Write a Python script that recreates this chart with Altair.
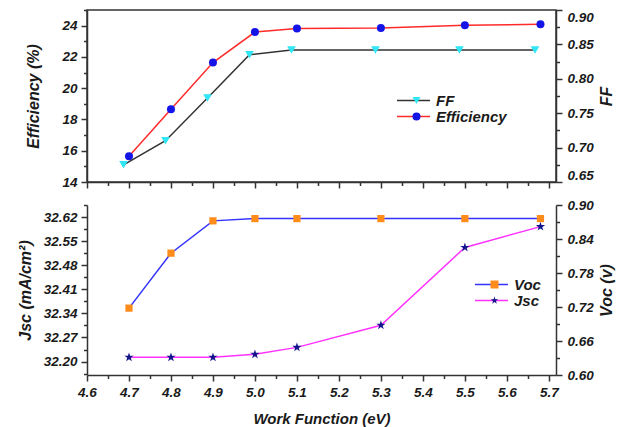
import altair as alt
import pandas as pd

# ---------------- data ----------------
work_function = [4.7, 4.8, 4.9, 5.0, 5.1, 5.3, 5.5, 5.68]
ff_work_function = [4.687, 4.787, 4.887, 4.987, 5.087, 5.287, 5.487, 5.667]
efficiency = [15.65, 18.65, 21.64, 23.59, 23.81, 23.85, 24.02, 24.09]
ff = [0.675, 0.710, 0.772, 0.835, 0.842, 0.842, 0.842, 0.842]
voc = [0.718, 0.815, 0.872, 0.876, 0.876, 0.876, 0.876, 0.876]
jsc = [32.2125, 32.2125, 32.2125, 32.2212, 32.2413, 32.3057, 32.5316, 32.5922]

x_ticks = [4.6, 4.65, 4.7, 4.75, 4.8, 4.85, 4.9, 4.95, 5.0, 5.05, 5.1, 5.15,
           5.2, 5.25, 5.3, 5.35, 5.4, 5.45, 5.5, 5.55, 5.6, 5.65, 5.7]
eff_ticks = [14, 15, 16, 17, 18, 19, 20, 21, 22, 23, 24, 25]
ff_ticks = [0.65, 0.675, 0.70, 0.725, 0.75, 0.775, 0.80, 0.825, 0.85, 0.875, 0.90]
jsc_ticks = [32.165, 32.20, 32.235, 32.27, 32.305, 32.34, 32.375, 32.41, 32.445,
             32.48, 32.515, 32.55, 32.585, 32.62, 32.655]
voc_ticks = [0.60, 0.63, 0.66, 0.69, 0.72, 0.75, 0.78, 0.81, 0.84, 0.87, 0.90]

eff_df = pd.DataFrame({"x": work_function, "value": efficiency, "series": "Efficiency"})
ff_df = pd.DataFrame({"x": ff_work_function, "value": ff, "series": "FF"})
voc_df = pd.DataFrame({"x": work_function, "value": voc, "series": "Voc"})
jsc_df = pd.DataFrame({"x": work_function, "value": jsc, "series": "Jsc"})

FONT = "Liberation Sans"
INK = "#1a1a1a"
AXC = "#333333"
STAR = ("M0,-1L0.2245,-0.309L0.951,-0.309L0.3633,0.118L0.588,0.809L0,0.382"
        "L-0.588,0.809L-0.3633,0.118L-0.951,-0.309L-0.2245,-0.309Z")

base_axis = dict(
    domainColor=AXC, domainWidth=1.5, tickColor=AXC, tickWidth=1.5,
    labelFont=FONT, labelFontSize=13.5, labelFontWeight="bold",
    labelFontStyle="italic", labelColor=INK,
    titleFont=FONT, titleFontSize=16, titleFontWeight="bold",
    titleFontStyle="italic", titleColor=INK, grid=False,
)


def ticksize(test):
    return {"condition": {"test": test, "value": 6}, "value": 3.5}


x_major = "abs(datum.value*10 - round(datum.value*10)) < 0.001"
eff_major = "datum.value % 2 == 0"
ff_major = "abs(datum.value*20 - round(datum.value*20)) < 0.001"
jsc_major = "abs((datum.value-32.2)/0.07 - round((datum.value-32.2)/0.07)) < 0.01"
voc_major = "abs((datum.value-0.6)/0.06 - round((datum.value-0.6)/0.06)) < 0.01"

X_DOMAIN = [4.6, 5.717]

x_axis_top = alt.Axis(values=x_ticks, labels=False, title=None,
                      tickSize=ticksize(x_major), **base_axis)
x_axis_bot = alt.Axis(values=x_ticks, format=".1f", title="Work Function (eV)",
                      labelExpr=f"{x_major} ? datum.label : ''",
                      tickSize=ticksize(x_major), labelFlush=False,
                      labelPadding=4, titlePadding=13,
                      **{**base_axis, "titleFontSize": 15})
eff_axis = alt.Axis(orient="left", values=eff_ticks, format="d", title="Efficiency (%)",
                    labelExpr=f"{eff_major} ? datum.label : ''",
                    tickSize=ticksize(eff_major), labelPadding=4, titlePadding=20,
                    **base_axis)
ff_axis = alt.Axis(orient="right", values=ff_ticks, format=".2f", title="FF",
                   labelExpr=f"{ff_major} ? datum.label : ''",
                   tickSize=ticksize(ff_major), labelPadding=5, titlePadding=5,
                   titleAngle=270, titleBaseline="top", labelFlush=True, **base_axis)
jsc_axis = alt.Axis(orient="left", values=jsc_ticks, format=".2f", title="Jsc (mA/cm²)",
                    labelExpr=f"{jsc_major} ? datum.label : ''",
                    tickSize=ticksize(jsc_major), labelPadding=4, titlePadding=10,
                    **base_axis)
voc_axis = alt.Axis(orient="right", values=voc_ticks, format=".2f", title="Voc (v)",
                    labelExpr=f"{voc_major} ? datum.label : ''",
                    tickSize=ticksize(voc_major), labelPadding=5, titlePadding=5,
                    titleAngle=270, titleBaseline="top", **base_axis)


def line_legend(lx, ly):
    return alt.Legend(orient="none", legendX=lx, legendY=ly, title=None,
                      symbolType="stroke", symbolSize=1089, symbolStrokeWidth=1.5,
                      labelFont=FONT, labelFontSize=15, labelFontWeight="bold",
                      labelFontStyle="italic", labelColor=INK, labelOffset=5,
                      clipHeight=15, rowPadding=0, padding=0)


def marker_legend(lx, ly, values):
    return alt.Legend(orient="none", legendX=lx, legendY=ly, title=None, values=values,
                      symbolSize=64, symbolStrokeWidth=0, labelOpacity=0,
                      labelFontSize=15, clipHeight=15, rowPadding=0, padding=0)


def panel(left_df, right_df, left_axis, right_axis, left_dom, right_dom,
          names, line_colors, marker_colors, shapes, sizes, x_axis, leg_xy):
    lx, ly = leg_xy
    stroke = lambda: alt.Stroke("series:N", scale=alt.Scale(domain=names, range=line_colors),
                                legend=line_legend(lx, ly))
    rev = names[::-1]
    mleg = marker_legend(lx + 13, ly, names)
    fill = lambda: alt.Fill("series:N", scale=alt.Scale(domain=rev, range=marker_colors[::-1]),
                            legend=mleg)
    shape = lambda: alt.Shape("series:N", scale=alt.Scale(domain=rev, range=shapes[::-1]),
                              legend=mleg)
    x = lambda: alt.X("x:Q", scale=alt.Scale(domain=X_DOMAIN, nice=False, zero=False), axis=x_axis)

    def side(df, axis, dom, size):
        y = lambda: alt.Y("value:Q", scale=alt.Scale(domain=dom, nice=False, zero=False), axis=axis)
        ln = alt.Chart(df).mark_line(strokeWidth=1.5).encode(x=x(), y=y(), stroke=stroke())
        pt = alt.Chart(df).mark_point(filled=True, size=size, opacity=1).encode(
            x=x(), y=y(), fill=fill(), shape=shape())
        return alt.layer(ln, pt)

    return alt.layer(
        side(left_df, left_axis, left_dom, sizes[1]),
        side(right_df, right_axis, right_dom, sizes[0]),
    ).resolve_scale(y="independent")


top = panel(eff_df, ff_df, eff_axis, ff_axis, [14, 25], [0.65, 0.90],
            ["FF", "Efficiency"], ["#333333", "#FF2A2A"], ["#2EE6F5", "#1414E6"],
            ["triangle-down", "circle"], [75, 64], x_axis_top, (309, 83)).properties(
    width=469, height=172, view=alt.ViewBackground(stroke=AXC, strokeWidth=1.5))

bottom = panel(jsc_df, voc_df, jsc_axis, voc_axis, [32.161, 32.655], [0.60, 0.90],
               ["Voc", "Jsc"], ["#3333FF", "#FF33FF"], ["#FF8C1A", "#14148C"],
               ["square", STAR], [52, 95], x_axis_bot, (387, 72)).properties(
    width=469, height=170)

chart = alt.vconcat(top, bottom, spacing=23, bounds="flush").resolve_scale(
    stroke="independent", fill="independent", shape="independent"
).properties(
    padding={"left": 9, "top": 0, "right": 0, "bottom": 0}
).configure_view(stroke=None)

chart.save("out.html", embed_options={"renderer": "svg", "actions": False})
